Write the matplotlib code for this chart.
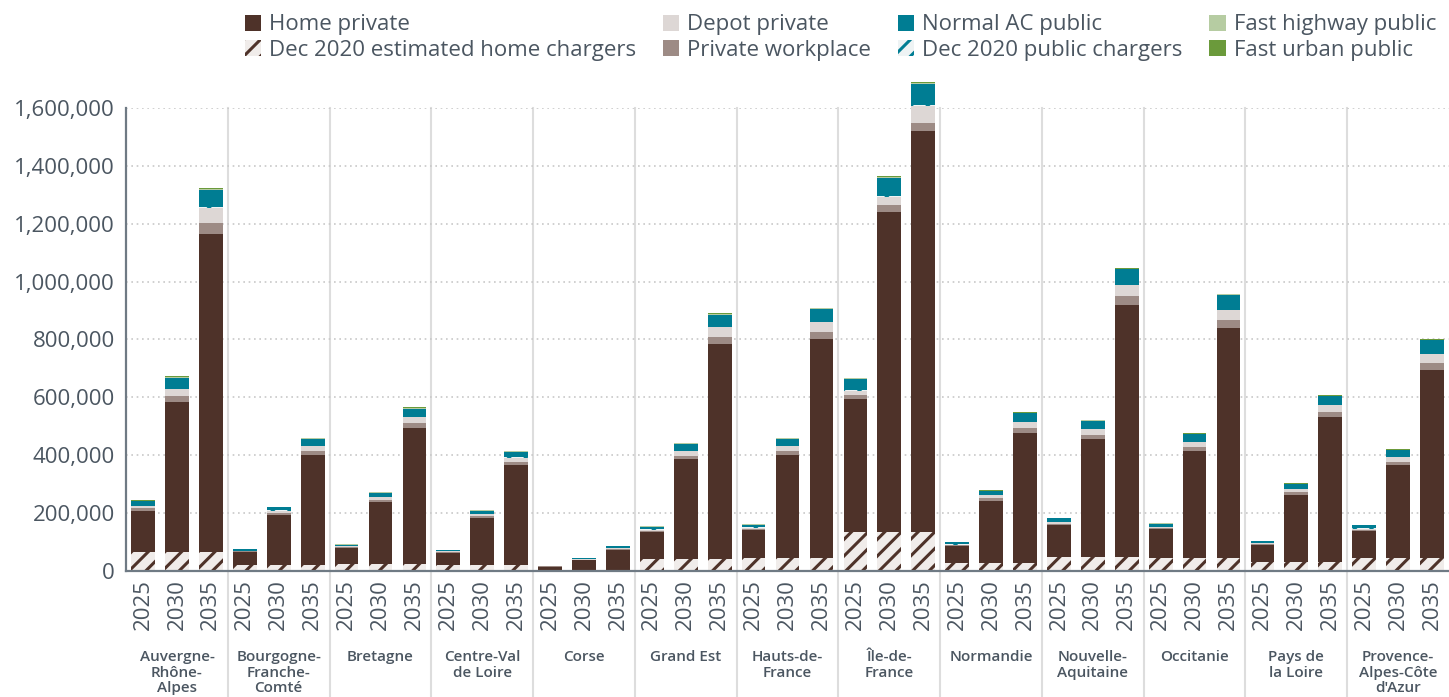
import matplotlib.pyplot as plt
from matplotlib.patches import Patch
from matplotlib.ticker import FuncFormatter
import numpy as np

plt.rcParams['font.family'] = ['Open Sans', 'DejaVu Sans']
plt.rcParams['hatch.linewidth'] = 2.2

regions = ["Auvergne-\nRhône-\nAlpes", "Bourgogne-\nFranche-\nComté", "Bretagne",
           "Centre-Val\nde Loire", "Corse", "Grand Est", "Hauts-de-\nFrance",
           "Île-de-\nFrance", "Normandie", "Nouvelle-\nAquitaine", "Occitanie",
           "Pays de\nla Loire", "Provence-\nAlpes-Côte\nd'Azur"]
years = ["2025", "2030", "2035"]

# thousands of chargers, three bars (2025, 2030, 2035) per region
home_private = [208, 585, 1163,  65, 192, 402,  80, 237, 495,  63, 183, 365,
                15, 38, 73,  133, 385, 785,  140, 400, 800,  595, 1240, 1520,
                85, 243, 477,  158, 455, 920,  143, 415, 840,  90, 263, 533,
                137, 365, 695]
home_dec2020 = [65, 65, 65,  20, 20, 20,  25, 25, 25,  20, 20, 20,
                4, 4, 4,  42, 42, 42,  45, 45, 45,  135, 135, 135,
                28, 28, 28,  48, 48, 48,  45, 45, 45,  30, 30, 30,
                45, 45, 45]
private_workplace = [8, 20, 38,  2, 7, 13,  3, 8, 16,  2, 6, 11,
                     0.5, 1.2, 2,  4, 12, 25,  4, 13, 26,  14, 24, 28,
                     3, 8, 16,  5, 15, 30,  4, 14, 27,  3, 9, 17,
                     4, 12, 24]
depot_private = [7, 22, 55,  2, 9, 17,  3, 10, 21,  2, 8, 15,
                 0.7, 1.8, 3.5,  5, 16, 32,  5, 17, 33,  13, 29, 59,
                 3, 10, 21,  5, 19, 38,  5, 17, 35,  3, 11, 22,
                 5, 15, 31]
public_dec2020 = [2, 2, 2,  1, 1, 1,  1, 1, 1,  1, 1, 1,
                  0.3, 0.3, 0.3,  1, 1, 1,  1, 1, 1,  3, 3, 3,
                  1, 1, 1,  1, 1, 1,  1, 1, 1,  1, 1, 1,
                  1, 1, 1]
normal_ac_public = [17, 38, 60,  4, 11, 23,  4, 14, 28,  4, 10, 20,
                    1.2, 3.2, 5.5,  10, 25, 43,  10, 26, 46,  38, 63, 73,
                    7, 14, 29,  12, 29, 53,  10, 26, 50,  5, 16, 31,
                    11, 24, 46]
fast_highway = [1, 2, 3,  0.5, 1, 2,  0.5, 1, 2,  0.5, 1, 1.5,
                0.1, 0.2, 0.3,  1, 1.5, 2,  1, 1.5, 2,  2, 2, 3,
                0.5, 1, 2,  1, 1.5, 3,  1, 1.5, 2.5,  0.5, 1, 2,
                1, 1.5, 2.5]
fast_urban = [2, 3, 4,  0.5, 1, 2,  0.5, 1, 2,  0.5, 1, 1.5,
              0.2, 0.3, 0.4,  1, 1.5, 2,  1, 1.5, 2,  3, 4, 4,
              0.5, 1, 2,  1, 1.5, 3,  1, 1.5, 2.5,  0.5, 1, 2,
              1, 1.5, 2.5]

brown = '#4e3229'
teal = '#007d93'
txt = '#4b5661'

fig = plt.figure(figsize=(14.49, 6.97), dpi=100)
ax = fig.add_axes([0.087, 0.181, 0.913, 0.664])

x = np.arange(len(home_private))
w = 0.7
k = 1000

ax.bar(x, np.array(home_private) * k, w, color=brown, lw=0, zorder=3, clip_on=False)
ax.bar(x, np.array(home_dec2020) * k, w, color='#f0ecea', edgecolor=brown,
       hatch='//', lw=0, zorder=3, clip_on=False)

bottom = np.array(home_private, dtype=float) * k
stack = [(private_workplace, '#9d8b85', None, None),
         (depot_private, '#ddd7d5', None, None),
         (public_dec2020, '#eef3f4', teal, '//'),
         (normal_ac_public, teal, None, None),
         (fast_highway, '#b6cca2', None, None),
         (fast_urban, '#6b9a3b', None, None)]
for vals, col, ec, hatch in stack:
    v = np.array(vals, dtype=float) * k
    ax.bar(x, v, w, bottom=bottom, color=col, edgecolor=ec, hatch=hatch,
           lw=0, zorder=3, clip_on=False)
    bottom = bottom + v

ax.set_xlim(-0.5, len(x) - 0.5)
ax.set_ylim(0, 1600000)
ax.set_yticks(np.arange(0, 1600001, 200000))
ax.yaxis.set_major_formatter(FuncFormatter(lambda v, p: f"{int(v):,}"))
ax.yaxis.grid(True, linestyle=(0, (1, 2.2)), color='#c8c8c8', lw=1.2, zorder=0)
ax.set_xticks(x)
ax.set_xticklabels(years * len(regions), rotation=90)
ax.tick_params(axis='both', length=0, labelsize=16, colors=txt, pad=6)
ax.tick_params(axis='y', pad=8)

for s in ['top', 'right']:
    ax.spines[s].set_visible(False)
for s in ['left', 'bottom']:
    ax.spines[s].set_color('#6f7a84')
    ax.spines[s].set_linewidth(1.6)
    ax.spines[s].set_zorder(4)

for g in range(1, len(regions)):
    ax.axvline(3 * g - 0.5, ymin=-0.272, ymax=1.0, clip_on=False,
               color='#dddddd', lw=1.5, zorder=1)

for g, name in enumerate(regions):
    ax.annotate(name, xy=(3 * g + 1, 0), xycoords=('data', 'axes fraction'),
                xytext=(0, -57), textcoords='offset points', ha='center',
                va='top', fontsize=11, fontweight='semibold', color=txt,
                linespacing=1.15, annotation_clip=False)

handles = [Patch(facecolor=brown, lw=0),
           Patch(facecolor='#f0ecea', edgecolor=brown, hatch='//', lw=0),
           Patch(facecolor='#ddd7d5', lw=0),
           Patch(facecolor='#9d8b85', lw=0),
           Patch(facecolor=teal, lw=0),
           Patch(facecolor='#eef3f4', edgecolor=teal, hatch='//', lw=0),
           Patch(facecolor='#b6cca2', lw=0),
           Patch(facecolor='#6b9a3b', lw=0)]
labels = ["Home private", "Dec 2020 estimated home chargers", "Depot private",
          "Private workplace", "Normal AC public", "Dec 2020 public chargers",
          "Fast highway public", "Fast urban public"]
fig.legend(handles, labels, ncol=4, loc='upper left', bbox_to_anchor=(0.155, 1.008),
           frameon=False, fontsize=16, handlelength=0.75, handleheight=0.75,
           handletextpad=0.35, columnspacing=1.2, labelspacing=0.2,
           labelcolor=txt)

fig.savefig('out.png', dpi=100)
